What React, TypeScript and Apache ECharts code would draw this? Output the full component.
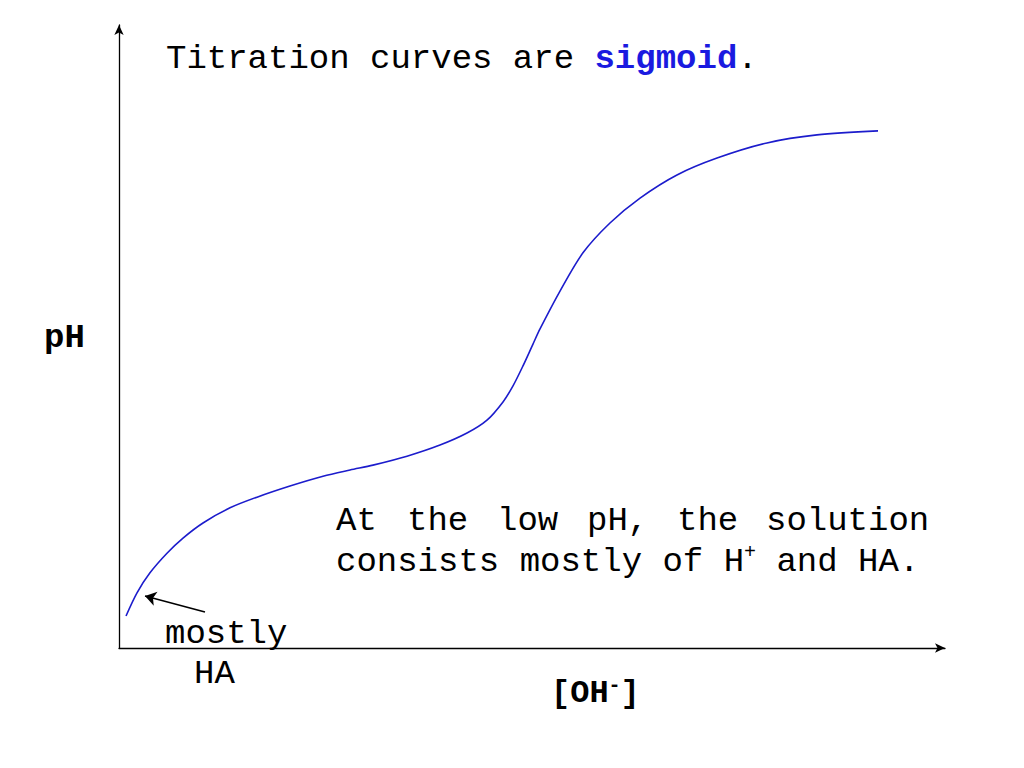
import React, { useEffect, useRef } from "react";
import * as echarts from "echarts";

const ohAmount = [0.85, 2.18, 3.75, 5.81, 7.75, 10.17, 13.44, 16.71, 20.7, 24.7, 27.97, 30.75, 34.87, 38.86, 42.13, 44.55, 46.49, 47.7, 48.91, 50.12, 50.97, 53.39, 56.17, 59.44, 63.08, 67.55, 72.4, 78.45, 84.5, 91.89];
const phValues = [0.72, 1.24, 1.69, 2.13, 2.47, 2.81, 3.15, 3.39, 3.64, 3.86, 4.0, 4.11, 4.31, 4.56, 4.83, 5.12, 5.53, 5.89, 6.34, 6.83, 7.17, 8.02, 8.88, 9.55, 10.11, 10.63, 11.01, 11.35, 11.53, 11.62];
const arrowFrom = [10.41, 0.81];
const arrowTo = [3.15, 1.17];

const noteLine1Words = ["At", "the", "low", "pH,", "the", "solution"];
const noteLine1X = [336, 407, 497, 587, 677, 766];

const MONO = "'Liberation Mono', 'Courier New', monospace";

export default function App() {
  const ref = useRef<HTMLDivElement>(null);
  useEffect(() => {
    document.body.style.margin = "0";
    const chart = echarts.init(ref.current!, null, { renderer: "svg" });
    const axisCommon = {
      type: "value" as const,
      axisLine: {
        show: true,
        symbol: ["none", "arrow"],
        symbolSize: [7, 10],
        lineStyle: { color: "#000", width: 1.3 },
      },
      axisTick: { show: false },
      axisLabel: { show: false },
      splitLine: { show: false },
    };
    chart.setOption({
      animation: false,
      backgroundColor: "#fff",
      grid: { left: 119, right: 79, top: 25, bottom: 120 },
      xAxis: { ...axisCommon, min: 0, max: 100 },
      yAxis: { ...axisCommon, min: 0, max: 14 },
      series: [
        {
          type: "line",
          data: ohAmount.map((x, i) => [x, phValues[i]]),
          smooth: 0.3,
          showSymbol: false,
          lineStyle: { color: "#1c1ccc", width: 1.6 },
          markLine: {
            silent: true,
            animation: false,
            label: { show: false },
            lineStyle: { color: "#000", width: 1.6, type: "solid" },
            symbolSize: 11,
            data: [
              [
                { coord: arrowFrom, symbol: "none" },
                { coord: arrowTo, symbol: "arrow" },
              ],
            ],
          },
        },
      ],
      graphic: [
        {
          type: "text",
          left: 166,
          top: 42,
          style: {
            text: "{n|Titration curves are }{b|sigmoid}{n|.}",
            rich: {
              n: { fontFamily: MONO, fontSize: 34, fill: "#000" },
              b: { fontFamily: MONO, fontSize: 34, fontWeight: "bold", fill: "#1a1ae0" },
            },
          },
        },
        ...noteLine1Words.map((w, i) => ({
          type: "text",
          left: noteLine1X[i],
          top: 504,
          style: { text: w, font: `34px ${MONO}`, fill: "#000" },
        })),
        {
          type: "text",
          left: 336,
          top: 542,
          style: {
            text: "{n|consists mostly of H}{s|+}{n| and HA.}",
            rich: {
              n: { fontFamily: MONO, fontSize: 34, fill: "#000", lineHeight: 40 },
              s: { fontFamily: MONO, fontSize: 20, fill: "#000", lineHeight: 22, verticalAlign: "top" },
            },
          },
        },
        {
          type: "text",
          left: 165,
          top: 617,
          style: { text: "mostly", font: `34px ${MONO}`, fill: "#000" },
        },
        {
          type: "text",
          left: 194,
          top: 657,
          style: { text: "HA", font: `34px ${MONO}`, fill: "#000" },
        },
        {
          type: "text",
          left: 44,
          top: 321,
          style: { text: "pH", font: `bold 34px ${MONO}`, fill: "#000" },
        },
        {
          type: "text",
          left: 551,
          top: 675,
          style: {
            text: "{b|[OH}{s|-}{b|]}",
            rich: {
              b: { fontFamily: MONO, fontSize: 32, fontWeight: "bold", fill: "#000", lineHeight: 36 },
              s: { fontFamily: MONO, fontSize: 20, fontWeight: "bold", fill: "#000", lineHeight: 20, verticalAlign: "top" },
            },
          },
        },
      ],
    });
    return () => chart.dispose();
  }, []);
  return <div ref={ref} style={{ width: 1024, height: 768 }} />;
}
